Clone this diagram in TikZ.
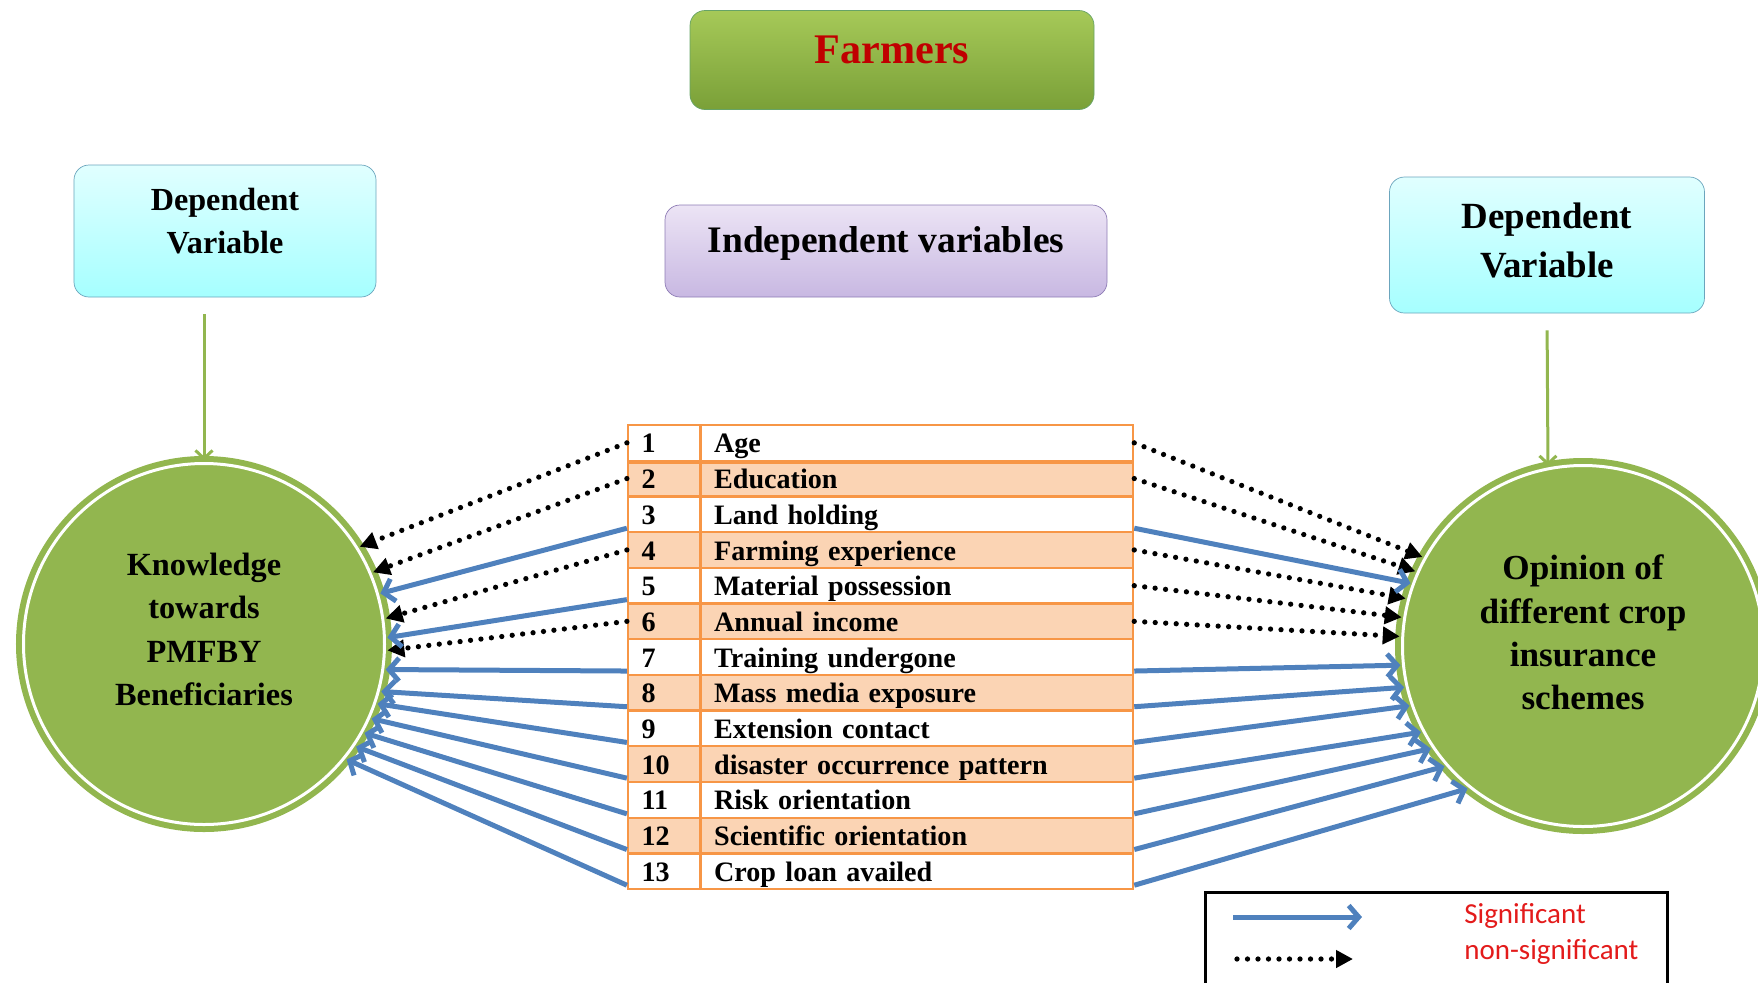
\documentclass[tikz,border=0pt]{standalone}
\usepackage{fontspec}
\setmainfont{Liberation Serif}
\newfontfamily\legendfont{Carlito}
\usetikzlibrary{arrows.meta}
\definecolor{leafgreen}{HTML}{92B64F}
\definecolor{arrowblue}{HTML}{4F81BD}
\definecolor{tableorange}{HTML}{F79646}
\definecolor{peach}{HTML}{FBD4B4}
\definecolor{farmred}{HTML}{C00000}
\definecolor{legendred}{HTML}{E31B1B}

\begin{document}
\begin{tikzpicture}[x=0.2mm, y=-0.2mm, font=\bfseries,
	sig/.style={draw=arrowblue, line width=1mm, -{Straight Barb[length=2mm, width=4.6mm]}},
	nsig/.style={line width=3pt, line cap=round, dash pattern=on 0pt off 2.1mm, -{Triangle[length=3.4mm, width=3.4mm]}},
	deparrow/.style={draw=leafgreen, line width=0.6mm, shorten <=3.4mm, -{Straight Barb[length=1.6mm, width=3.4mm]}},
	roundbox/.style={rounded corners=3mm, align=center, inner sep=0pt},
	depbox/.style={roundbox, draw=cyan!45!gray, top color=cyan!12, bottom color=cyan!35},
	boxtext/.style={align=center, inner sep=0pt},
	bigcircle/.style={circle, fill=leafgreen, draw=leafgreen, double=white, double distance=0.6mm, line width=1.2mm, minimum size=72.2mm, inner sep=0pt},
	numcell/.style={draw=tableorange, line width=0.45mm, minimum height=7.14mm, text width=9mm, inner xsep=2.7mm, inner ysep=0pt, text height=13.5pt, text depth=2pt, align=left, font=\fontsize{16}{18}\selectfont\bfseries},
	varcell/.style={draw=tableorange, line width=0.45mm, minimum height=7.14mm, text width=81.2mm, inner xsep=2.6mm, inner ysep=0pt, text height=13.5pt, text depth=2pt, align=left, anchor=west, font=\fontsize{16}{18}\selectfont\bfseries},
	legendtxt/.style={anchor=west, inner sep=0pt, text=legendred, font=\legendfont\fontsize{16.5}{18}\selectfont}]
	\useasboundingbox (0,0) rectangle (1758,982);

	\node[roundbox, draw=green!40!black!60, top color={rgb,255:red,166;green,201;blue,88}, bottom color={rgb,255:red,122;green,160;blue,56}, text=farmred, minimum width=80.8mm, minimum height=19.8mm, text height=16.3pt, text depth=12.5pt, font=\fontsize{24}{28}\selectfont\bfseries] (F) at (892,60) {Farmers};
	\node[depbox, minimum width=60.4mm, minimum height=26.4mm] (LD) at (225,231) {};
	\node[boxtext, font=\fontsize{18.3}{24.2}\selectfont\bfseries] (LDt) at ([yshift=2mm]LD.center) {Dependent\\Variable};
	\node[depbox, minimum width=63mm, minimum height=27.2mm] (RD) at (1547,245) {};
	\node[boxtext, font=\fontsize{21}{27.4}\selectfont\bfseries] (RDt) at ([yshift=0.9mm]RD.center) {Dependent\\Variable};
	\node[roundbox, draw={rgb,255:red,142;green,124;blue,181}, top color={rgb,255:red,236;green,228;blue,245}, bottom color={rgb,255:red,200;green,184;blue,226}, minimum width=88.4mm, minimum height=18.4mm, text height=14.5pt, text depth=12.5pt, font=\fontsize{21.3}{25}\selectfont\bfseries] (IV) at (886,251) {Independent variables};

	\node[bigcircle] (K) at (204,644) {};
	\node[boxtext, font=\fontsize{18.4}{24.8}\selectfont\bfseries] (Kt) at ([yshift=2.9mm]K.center) {Knowledge\\towards\\PMFBY\\Beneficiaries};
	\node[bigcircle] (O) at (1583,646) {};
	\node[boxtext, font=\fontsize{20}{24.6}\selectfont\bfseries] (Ot) at ([yshift=2.7mm]O.center) {Opinion of\\different crop\\insurance\\schemes};

	\draw[deparrow] (LD.south -| K.north) -- (K.north);
	\draw[deparrow] (RD.south) -- (O.101);

	\foreach \i/\f/\txt in {1/white/Age, 2/peach/Education, 3/white/Land holding, 4/peach/Farming experience, 5/white/Material possession, 6/peach/Annual income, 7/white/Training undergone, 8/peach/Mass media exposure, 9/white/Extension contact, 10/peach/disaster occurrence pattern, 11/white/Risk orientation, 12/peach/Scientific orientation, 13/white/Crop loan availed}{
		\node[numcell, fill=\f] (n\i) at (664,{425+(\i-0.5)*35.7}) {\i};
		\node[varcell, fill=\f] (v\i) at (700,{425+(\i-0.5)*35.7}) {\txt};
	}
	\draw[tableorange, line width=0.9mm] (n1.south west) -- (v1.south east);

	\foreach \i/\a in {1/32, 2/23, 4/8, 6/-2}
		\draw[nsig] (n\i.west) -- (K.\a);
	\foreach \i/\a in {3/16, 5/2, 7/-8, 8/-15, 9/-19, 10/-24, 11/-29, 12/-34, 13/-39}
		\draw[sig] ([yshift=1mm]n\i.south west) -- (K.\a);
	\foreach \i/\a in {1/151, 2/156, 4/165, 5/171, 6/177}
		\draw[nsig] (v\i.east) -- (O.\a);
	\foreach \i/\a in {3/160, 7/186, 8/193, 9/199, 10/208, 11/214, 12/221, 13/231}
		\draw[sig] ([yshift=1mm]v\i.south east) -- (O.\a);

	\node[draw, line width=0.6mm, minimum width=92.4mm, minimum height=22mm, anchor=north west] (L) at (1204,891) {};
	\coordinate (s1) at (1233,917);
	\coordinate (s2) at (1362,917);
	\coordinate (d1) at (1237,959);
	\coordinate (d2) at (1353,959);
	\draw[sig] (s1) -- (s2);
	\draw[nsig] (d1) -- (d2);
	\node[legendtxt] (ls) at (1464,916) {Significant};
	\node[legendtxt] (ln) at (1464,952) {non-significant};
\end{tikzpicture}
\end{document}
